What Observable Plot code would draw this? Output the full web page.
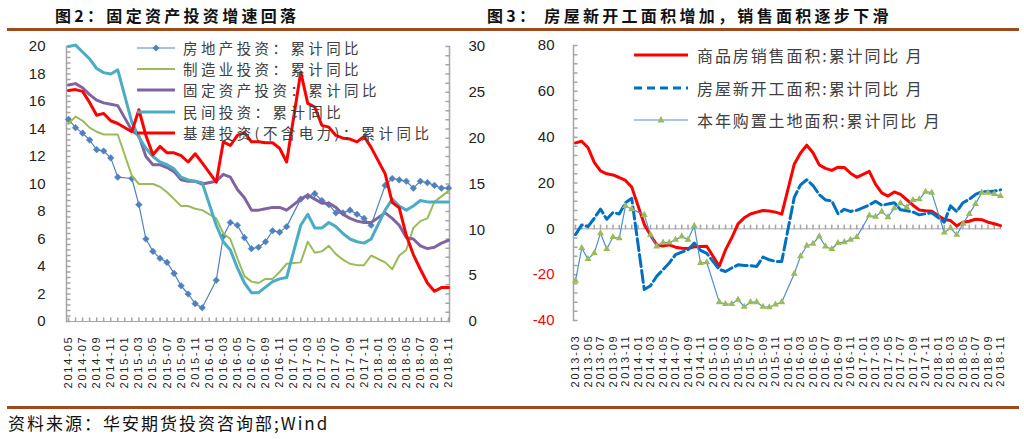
<!DOCTYPE html>
<html><head><meta charset="utf-8">
<script src="https://cdn.jsdelivr.net/npm/d3@7"></script>
<script src="https://cdn.jsdelivr.net/npm/@observablehq/plot@0.6"></script>
<style>
html,body{margin:0;padding:0;background:#fff}
#root{position:relative;width:1024px;height:439px;overflow:hidden;background:#fff;font-family:"Noto Sans CJK SC","Noto Sans",sans-serif}
.title{position:absolute;top:2px;font-weight:700;font-size:16px;letter-spacing:3.3px;color:#111;white-space:nowrap;line-height:26px}
.rule{position:absolute;left:7px;width:1012px;height:3px;background:#9C4A1E}
.chart{position:absolute;top:35px}
.legend{position:absolute;left:0;top:0;width:0;height:0;color:#404040;white-space:nowrap}
.row{position:absolute;height:18px;line-height:18px;display:flex;align-items:center}
.row svg{flex:none}
.lgL{font-size:14.5px;letter-spacing:3.4px}
.lgR{font-size:16px;letter-spacing:1.9px}
.foot{position:absolute;left:8px;top:411px;font-size:17px;letter-spacing:2px;color:#111;line-height:24px;white-space:nowrap}
.xlab text{letter-spacing:1.8px}
</style></head>
<body><div id="root">
<div class="title" style="left:55px">图2：固定资产投资增速回落</div>
<div class="title" style="left:487px">图3：<span style="margin-left:6px">房屋新开工面积增加，销售面积逐步下滑</span></div>
<div class="rule" style="top:28px"></div>
<div class="chart" id="c1" style="left:0px"></div>
<div class="chart" id="c2" style="left:512px"></div>
<div class="legend" id="lg"></div>
<div class="rule" style="top:406px"></div>
<div class="foot">资料来源：华安期货投资咨询部;Wind</div>
</div>
<script>
// ---------- categories ----------
const monthsL = d3.utcMonths(new Date(Date.UTC(2014,4,1)), new Date(Date.UTC(2018,11,1))).map(d3.utcFormat("%Y-%m"));
const monthsR = d3.utcMonths(new Date(Date.UTC(2013,2,1)), new Date(Date.UTC(2018,11,1))).map(d3.utcFormat("%Y-%m"));

// ---------- 图2 series (left axis %, infra on right axis %) ----------
const realEstate = [14.7,14.1,13.7,13.2,12.5,12.4,11.9,10.5, null,
  10.4,8.5,6.0,5.1,4.6,4.3,3.5,2.6,2.0,1.3,1.0, null,
  3.0,6.2,7.2,7.0,6.1,5.3,5.4,5.8,6.6,6.5,6.9, null,
  8.9,9.1,9.3,8.8,8.5,7.9,7.9,8.1,7.8,7.5,7.0, null,
  9.9,10.4,10.3,10.2,9.7,10.2,10.1,9.9,9.7,9.7];
const manufacturing = [14.4,14.9,14.6,14.1,13.8,13.6,13.6,13.6, null,
  10.6,10.0,10.0,10.0,9.8,9.4,8.9,8.4,8.4,8.2,8.1, null,
  7.5,6.4,6.0,4.6,3.3,2.9,2.8,3.1,3.1,3.6,4.2, null,
  4.3,5.8,5.0,5.1,5.5,4.9,4.5,4.2,4.1,4.1,4.8, null,
  4.3,3.8,4.8,5.2,6.8,7.3,7.5,8.7,9.1,9.5];
const fixedAsset = [17.2,17.3,17.0,16.5,16.1,15.9,15.8,15.7, null,
  13.9,13.5,12.0,11.4,11.4,11.2,10.9,10.3,10.2,10.2,10.0, null,
  10.2,10.7,10.5,9.6,9.0,8.1,8.1,8.2,8.3,8.3,8.1, null,
  8.9,9.2,8.9,8.6,8.6,8.3,7.8,7.5,7.3,7.2,7.2, null,
  7.9,7.5,7.0,6.1,6.0,5.5,5.3,5.4,5.7,5.9];
const privateInv = [20.0,20.1,19.6,19.1,18.4,18.1,18.0,18.3, null,
  14.5,13.4,12.6,12.0,11.6,11.4,11.1,10.5,10.3,10.2,10.1, null,
  7.0,5.8,5.2,3.9,2.8,2.1,2.1,2.5,2.9,3.1,3.2, null,
  7.0,7.8,6.8,6.8,7.2,6.9,6.4,6.0,5.8,5.7,6.0, null,
  8.1,8.9,8.4,8.1,8.4,8.8,8.7,8.7,8.7,8.7];
const infra = [25.2,25.3,25.1,23.9,22.5,22.7,21.9,21.6, null,
  20.7,23.1,20.3,18.2,19.1,18.4,18.4,18.1,17.4,18.3,17.3, null,
  15.2,19.6,19.2,20.3,20.6,19.6,19.6,19.5,19.5,18.9,17.4, null,
  27.2,23.8,23.4,21.4,21.2,20.3,20.0,19.9,19.6,20.2,19.0, null,
  16.1,13.0,12.4,9.4,7.3,5.7,4.2,3.3,3.7,3.7];

// ---------- 图3 series ----------
const sales = [37.5,38.2,35.4,29.0,25.3,24.0,23.5,22.4,21.1,18.2, null,
  2.0,-2.8,-7.0,-7.5,-7.0,-8.0,-8.5,-8.6,-7.8,-7.7,-7.6, null,
  -16.3,-9.2,-3.9,2.2,4.8,6.5,7.3,8.0,7.8,7.3,6.4, null,
  28.2,33.1,36.5,33.2,27.9,26.4,25.5,26.9,26.8,24.3,22.5, null,
  25.1,19.5,15.7,14.3,16.1,15.0,12.7,10.3,8.2,7.9,7.7, null,
  4.1,3.6,1.3,2.9,3.3,4.2,4.0,2.9,2.2,1.4];
const newStarts = [-2.5,1.7,1.0,4.6,8.6,4.2,7.1,6.5,11.4,13.3, null,
  -26.5,-24.8,-20.7,-17.8,-14.9,-11.3,-10.2,-9.1,-6.2,-9.4,-10.7, null,
  -17.7,-18.6,-17.1,-15.7,-16.0,-16.1,-16.4,-12.3,-13.5,-14.2,-14.2, null,
  13.7,19.2,21.4,18.9,14.9,12.6,12.2,6.6,8.5,7.6,8.1, null,
  10.4,12.0,10.3,10.8,11.4,8.3,7.9,7.3,6.1,6.6,7.0, null,
  2.9,10.0,7.5,11.4,12.9,15.0,16.2,16.2,16.5,17.0];
const landArea = [-22.6,-8.4,-13.2,-10.6,-1.9,-8.8,-3.6,-4.1,10.0,8.6, null,
  6.1,-2.6,-7.7,-6.0,-6.0,-4.8,-3.3,-4.8,1.3,-14.9,-14.6, null,
  -32.0,-32.8,-32.8,-30.9,-34.0,-32.0,-32.0,-34.0,-34.2,-33.0,-32.0, null,
  -19.6,-12.0,-7.4,-6.5,-3.3,-7.7,-8.8,-6.2,-5.8,-4.8,-3.6, null,
  5.8,5.3,7.5,5.1,9.0,11.2,9.4,12.6,12.9,16.2,15.8, null,
  -1.6,0.3,-2.6,2.2,6.5,10.9,15.8,15.8,15.2,14.3];

// ---------- ticks / labels ----------
const yTicksL = [0,2,4,6,8,10,12,14,16,18,20];
const yTicksRightAxis = [0,5,10,15,20,25,30];
const yTicksR = [80,60,40,20,0,-20,-40];
const legendL = ["房地产投资：累计同比","制造业投资：累计同比","固定资产投资：累计同比","民间投资：累计同比","基建投资(不含电力)：累计同比"];
const legendR = ["商品房销售面积:累计同比 月","房屋新开工面积:累计同比 月","本年购置土地面积:累计同比 月"];

// ---------- styles ----------
const C = {re:"#4F81BD", mf:"#9BBB59", fa:"#8064A2", pv:"#4BACC6", inf:"#FF0000",
           sales:"#FF0000", ns:"#0070C0", landLine:"#4F8FD0", landMk:"#9BBB59"};
const axisGray = "#A6A6A6";
const tickShape = {draw(ctx, l){ ctx.moveTo(0,0); ctx.lineTo(0,-l); }};
const rightScale = 20/30;

const def = k => d => d[k] != null;
const dataL = monthsL.map((m,i)=>({i, m, re:realEstate[i], mf:manufacturing[i], fa:fixedAsset[i], pv:privateInv[i], inf:infra[i]}));
const dataR = monthsR.map((m,i)=>({i, m, s:sales[i], n:newStarts[i], l:landArea[i]}));

const font = "'Liberation Sans', Arial, sans-serif";

// ---------- chart 1 ----------
const H = 365;
const L = {ml:66, mr:63, mt:11, mb:79};
const innerL = H - L.mt - L.mb;
const chart1 = Plot.plot({
  width:512, height:H, marginLeft:L.ml, marginRight:L.mr, marginTop:L.mt, marginBottom:L.mb,
  x:{domain:[0, monthsL.length-1], insetLeft:2, insetRight:1, axis:null},
  y:{domain:[0,20], axis:null},
  style:{fontFamily:font, fontSize:"15px", color:"#222", background:"transparent", overflow:"visible"},
  marks:[
    Plot.ruleY([0], {stroke:axisGray}),
    Plot.vector([0], {frameAnchor:"bottom-left", rotate:0, length:innerL, shape:tickShape, anchor:"start", stroke:axisGray}),
    Plot.vector([0], {frameAnchor:"bottom-right", rotate:0, length:innerL, shape:tickShape, anchor:"start", stroke:axisGray}),
    Plot.vector(d3.range(0, 20.001, 0.4), {y:d=>d, frameAnchor:"left", rotate:90, length:3.5, shape:tickShape, anchor:"start", stroke:axisGray}),
    Plot.vector(d3.range(0, 30.001, 1), {y:d=>d*rightScale, frameAnchor:"right", rotate:-90, length:3.5, shape:tickShape, anchor:"start", stroke:axisGray}),
    Plot.vector(dataL, {x:"i", frameAnchor:"bottom", rotate:0, length:3.5, shape:tickShape, anchor:"start", stroke:axisGray}),
    Plot.text(yTicksL, {y:d=>d, frameAnchor:"left", dx:-21, textAnchor:"end", text:d=>String(d), fontSize:15, fill:"#222"}),
    Plot.text(yTicksRightAxis, {y:d=>d*rightScale, frameAnchor:"right", dx:19, textAnchor:"start", text:d=>String(d), fontSize:15, fill:"#222"}),
    Plot.text(dataL.filter(d=>d.i%2===0), {x:"i", frameAnchor:"bottom", text:"m", rotate:-90, textAnchor:"end", lineAnchor:"middle", dy:14, fontSize:11, fill:"#222", className:"xlab"}),
    Plot.line(dataL.filter(def("re")), {x:"i", y:"re", stroke:C.re, strokeWidth:1.2}),
    Plot.dot(dataL.filter(def("re")), {x:"i", y:"re", symbol:"diamond2", r:3, fill:C.re, stroke:C.re, strokeWidth:0.5}),
    Plot.line(dataL.filter(def("mf")), {x:"i", y:"mf", stroke:C.mf, strokeWidth:2}),
    Plot.line(dataL.filter(def("fa")), {x:"i", y:"fa", stroke:C.fa, strokeWidth:3}),
    Plot.line(dataL.filter(def("pv")), {x:"i", y:"pv", stroke:C.pv, strokeWidth:3}),
    Plot.line(dataL.filter(def("inf")), {x:"i", y:d=>d.inf*rightScale, stroke:C.inf, strokeWidth:3})
  ]
});
document.getElementById("c1").append(chart1);

// ---------- chart 2 ----------
const R = {ml:61, mr:24, mt:10, mb:80};
const innerR = H - R.mt - R.mb;
const chart2 = Plot.plot({
  width:512, height:H, marginLeft:R.ml, marginRight:R.mr, marginTop:R.mt, marginBottom:R.mb,
  x:{domain:[0, monthsR.length-1], insetLeft:2, axis:null},
  y:{domain:[-40,80], axis:null},
  style:{fontFamily:font, fontSize:"15px", color:"#222", background:"transparent", overflow:"visible"},
  marks:[
    Plot.ruleY([0], {stroke:axisGray}),
    Plot.vector([0], {frameAnchor:"bottom-left", rotate:0, length:innerR, shape:tickShape, anchor:"start", stroke:axisGray}),
    Plot.vector(d3.range(-40, 80.001, 4), {y:d=>d, frameAnchor:"left", rotate:90, length:3.5, shape:tickShape, anchor:"start", stroke:axisGray}),
    Plot.vector(dataR, {x:"i", y:()=>0, rotate:0, length:3.5, shape:tickShape, anchor:"start", stroke:axisGray}),
    Plot.text(yTicksR.filter(v=>v>=0), {y:d=>d, frameAnchor:"left", dx:-19, textAnchor:"end", text:d=>String(d), fontSize:15, fill:"#222"}),
    Plot.text(yTicksR.filter(v=>v<0), {y:d=>d, frameAnchor:"left", dx:-19, textAnchor:"end", text:d=>String(d), fontSize:15, fill:"#FF0000"}),
    Plot.text(dataR.filter(d=>d.i%2===0), {x:"i", frameAnchor:"bottom", text:"m", rotate:-90, textAnchor:"end", lineAnchor:"middle", dy:14, fontSize:11, fill:"#222", className:"xlab"}),
    Plot.line(dataR.filter(def("s")), {x:"i", y:"s", stroke:C.sales, strokeWidth:3}),
    Plot.line(dataR.filter(def("n")), {x:"i", y:"n", stroke:C.ns, strokeWidth:3, strokeDasharray:"12,4"}),
    Plot.line(dataR.filter(def("l")), {x:"i", y:"l", stroke:C.landLine, strokeWidth:1.2}),
    Plot.dot(dataR.filter(def("l")), {x:"i", y:"l", symbol:"triangle", r:2.6, fill:C.landMk})
  ]
});
document.getElementById("c2").append(chart2);

// ---------- legends ----------
const lg = document.getElementById("lg");
function row(x, yc, w, gap, label, sw, cls){
  const r = document.createElement("div");
  r.className = "row " + cls;
  r.style.left = x + "px"; r.style.top = (yc - 9) + "px";
  const ns = "http://www.w3.org/2000/svg";
  const s = document.createElementNS(ns, "svg");
  s.setAttribute("width", w); s.setAttribute("height", 14);
  const ln = document.createElementNS(ns, "line");
  ln.setAttribute("x1", 0); ln.setAttribute("x2", w); ln.setAttribute("y1", 7); ln.setAttribute("y2", 7);
  ln.setAttribute("stroke", sw.stroke); ln.setAttribute("stroke-width", sw.width);
  if (sw.dash) ln.setAttribute("stroke-dasharray", sw.dash);
  s.appendChild(ln);
  if (sw.marker) {
    const p = document.createElementNS(ns, "polygon");
    const c = w/2;
    const pts = sw.marker === "diamond" ? [[c,3.5],[c+3.5,7],[c,10.5],[c-3.5,7]] : [[c,3],[c+3.5,9.5],[c-3.5,9.5]];
    p.setAttribute("points", pts.map(q=>q.join(",")).join(" "));
    p.setAttribute("fill", sw.fill);
    s.appendChild(p);
  }
  r.appendChild(s);
  const t = document.createElement("span");
  t.style.marginLeft = gap + "px";
  t.textContent = label;
  r.appendChild(t);
  lg.appendChild(r);
}
const swL = [
  {stroke:C.re, width:1.2, marker:"diamond", fill:C.re},
  {stroke:C.mf, width:2},
  {stroke:C.fa, width:3},
  {stroke:C.pv, width:3},
  {stroke:C.inf, width:3}
];
legendL.forEach((t,k)=>row(137, 48 + k*21.2, 38, 8, t, swL[k], "lgL"));
const swR = [
  {stroke:C.sales, width:3},
  {stroke:C.ns, width:3, dash:"8,5"},
  {stroke:C.landLine, width:1.2, marker:"triangle", fill:C.landMk}
];
legendR.forEach((t,k)=>row(634, 55 + k*32.5, 54, 9, t, swR[k], "lgR"));
</script>
</body></html>
